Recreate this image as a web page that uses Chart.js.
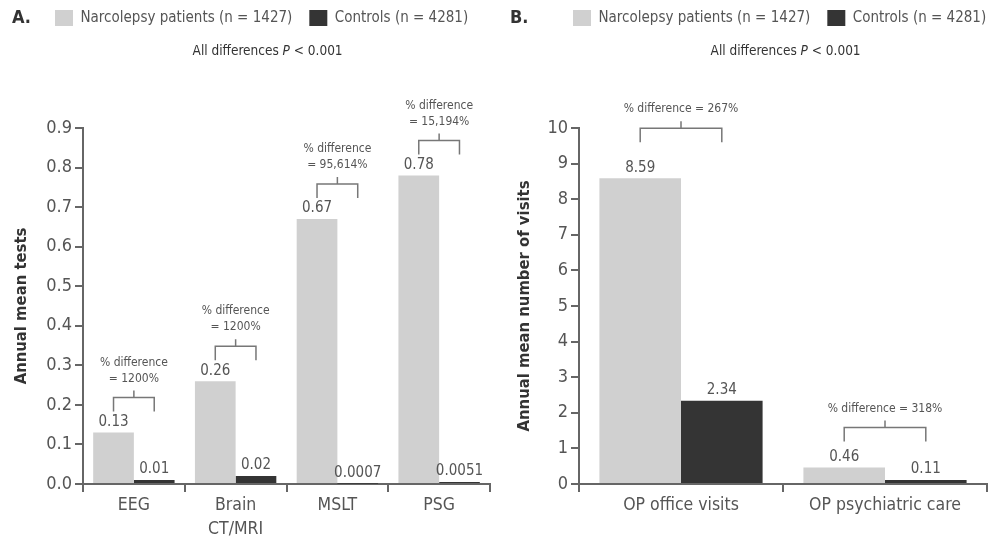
<!DOCTYPE html>
<html>
<head>
<meta charset="utf-8">
<script src="https://cdn.jsdelivr.net/npm/chart.js@4.4.1/dist/chart.umd.min.js"></script>
<style>
  html, body { margin: 0; padding: 0; background: #fff; width: 996px; height: 536px; overflow: hidden; }
  #testsChart { position: absolute; left: 0; top: 0; }
  #visitsChart { position: absolute; left: 500px; top: 0; }
</style>
</head>
<body>
<canvas id="testsChart" width="498" height="536"></canvas>
<canvas id="visitsChart" width="540" height="536"></canvas>
<script>
// data
const seriesNames = ['Narcolepsy patients (n = 1427)', 'Controls (n = 4281)']
const subtitleParts = ['All differences ', 'P', ' < 0.001']

const testCategories = ['EEG', ['Brain', 'CT/MRI'], 'MSLT', 'PSG']
const testNarcolepsy = [0.13, 0.26, 0.67, 0.78]
const testControls = [0.01, 0.02, 0.0007, 0.0051]
const testDiff = ['1200%', '1200%', '95,614%', '15,194%']
const testAxis = { min: 0, max: 0.9, step: 0.1, decimals: 1 }

const visitCategories = ['OP office visits', 'OP psychiatric care']
const visitNarcolepsy = [8.59, 0.46]
const visitControls = [2.34, 0.11]
const visitDiff = ['267%', '318%']
const visitAxis = { min: 0, max: 10, step: 1, decimals: 0 }

const FONT = "'Liberation Sans Narrow', 'DejaVu Sans Condensed', Arial, sans-serif"
Chart.defaults.font.family = FONT
const LIGHT = '#d0d0d0'
const DARK = '#343434'
const AXIS = '#666'
const TEXT = '#555'

// extra box under the legend: panel letter + "All differences P < 0.001"
const headerBox = {
  id: 'headerBox',
  beforeInit(chart) {
    const box = {
      position: 'top', weight: 500, fullSize: true, options: {},
      left: 0, top: 0, right: 0, bottom: 0, width: 0, height: 0,
      isHorizontal() { return true },
      update(maxWidth) {
        this.width = maxWidth
        this.height = chart.options.plugins.headerBox.height
      },
      draw() {
        const o = chart.options.plugins.headerBox
        const ctx = chart.ctx
        ctx.save()
        ctx.textBaseline = 'middle'
        ctx.fillStyle = '#333'
        ctx.font = 'bold 18px ' + FONT
        ctx.textAlign = 'left'
        ctx.fillText(o.panel, o.panelX, o.panelY)

        const hb = chart.legend.legendHitBoxes
        const last = hb[hb.length - 1]
        const cx = (hb[0].left + last.left + last.width) / 2 + o.subShift
        const fonts = ['13.5px ' + FONT, 'italic 13.5px ' + FONT, '13.5px ' + FONT]
        let total = 0
        subtitleParts.forEach((p, i) => { ctx.font = fonts[i]; total += ctx.measureText(p).width })
        let x = cx - total / 2
        const y = this.top + o.subY
        subtitleParts.forEach((p, i) => {
          ctx.font = fonts[i]
          ctx.fillText(p, x, y)
          x += ctx.measureText(p).width
        })
        ctx.restore()
      }
    }
    Chart.layouts.addBox(chart, box)
  },
  // slide the legend row right, past the panel letter
  afterLayout(chart, args, opts) {
    const lg = chart.legend
    lg.left += opts.legendShift
    lg.right += opts.legendShift
    lg.legendHitBoxes.forEach(h => { h.left += opts.legendShift })
  }
}

// value labels above bars and "% difference" brackets
const barNotes = {
  id: 'barNotes',
  afterDatasetsDraw(chart, args, opts) {
    const ctx = chart.ctx
    const m0 = chart.getDatasetMeta(0)
    const m1 = chart.getDatasetMeta(1)
    ctx.save()
    ctx.fillStyle = TEXT
    ctx.textAlign = 'center'
    ctx.textBaseline = 'bottom'
    ctx.font = '15px ' + FONT
    chart.data.datasets.forEach((ds, d) => {
      chart.getDatasetMeta(d).data.forEach((bar, i) => {
        ctx.fillText(String(ds.data[i]), bar.x, bar.y - 3)
      })
    })

    ctx.strokeStyle = '#777'
    ctx.lineWidth = 1.5
    ctx.font = '12px ' + FONT
    ctx.textBaseline = 'middle'
    opts.texts.forEach((t, i) => {
      const b0 = m0.data[i]
      const b1 = m1.data[i]
      const legBottom = Math.min(b0.y, b1.y) - opts.gaps[i]
      const top = legBottom - 14
      const mid = (b0.x + b1.x) / 2
      ctx.beginPath()
      ctx.moveTo(b0.x, legBottom)
      ctx.lineTo(b0.x, top)
      ctx.lineTo(b1.x, top)
      ctx.lineTo(b1.x, legBottom)
      ctx.moveTo(mid, top)
      ctx.lineTo(mid, top - 7)
      ctx.stroke()
      if (opts.twoLine) {
        ctx.fillText('% difference', mid, top - 35)
        ctx.fillText('= ' + t, mid, top - 19)
      } else {
        ctx.fillText('% difference = ' + t, mid, top - 19)
      }
    })
    ctx.restore()
  }
}

function makeChart(id, categories, narc, ctrl, diffs, axis, yTitle, look) {
  return new Chart(document.getElementById(id), {
    type: 'bar',
    data: {
      labels: categories,
      datasets: [
        { label: seriesNames[0], data: narc, backgroundColor: LIGHT, borderWidth: 0, yAxisID: 'y',
          categoryPercentage: 0.8, barPercentage: 1.0 },
        { label: seriesNames[1], data: ctrl, backgroundColor: DARK, borderWidth: 0, yAxisID: 'y',
          categoryPercentage: 0.8, barPercentage: 1.0 }
      ]
    },
    options: {
      responsive: false,
      animation: false,
      devicePixelRatio: 1,
      layout: { padding: { left: 0, top: -7, right: 0, bottom: 0 } },
      scales: {
        x: {
          grid: { offset: true, drawOnChartArea: false, tickLength: 8, color: AXIS, lineWidth: 2 },
          border: { color: AXIS, width: 2 },
          ticks: { color: TEXT, font: { size: 17.5, lineHeight: 1.35 }, padding: 2, maxRotation: 0, autoSkip: false },
          afterFit: s => { s.height = 52 }
        },
        y: {
          min: axis.min, max: axis.max,
          grid: { drawOnChartArea: false, tickLength: 8, color: AXIS, lineWidth: 2 },
          border: { color: AXIS, width: 2 },
          ticks: { stepSize: axis.step, color: TEXT, font: { size: 18 }, padding: 3,
            callback: v => Number(v).toFixed(axis.decimals) },
          title: { display: true, text: yTitle, color: '#333', font: { size: 16.5, weight: 'bold' },
            padding: { top: look.titlePad, bottom: 0 } },
          afterFit: s => { s.width = look.yWidth }
        },
        yR: {
          position: 'right', display: true,
          grid: { display: false }, border: { display: false }, ticks: { display: false },
          afterFit: s => { s.width = look.rightWidth }
        }
      },
      plugins: {
        legend: {
          align: 'start',
          labels: { boxWidth: 18, boxHeight: 16, padding: 17, color: TEXT, font: { size: 15 } }
        },
        tooltip: { enabled: false },
        headerBox: { height: 92, panel: look.panel, panelX: look.panelX, panelY: 18, subY: 15,
          subShift: 6, legendShift: look.legendShift },
        barNotes: { texts: diffs, gaps: look.gaps, twoLine: look.twoLine }
      }
    },
    plugins: [headerBox, barNotes]
  })
}

makeChart('testsChart', testCategories, testNarcolepsy, testControls, testDiff, testAxis,
  'Annual mean tests',
  { yWidth: 83, rightWidth: 8, titlePad: 12, legendShift: 38, panel: 'A.', panelX: 12,
    gaps: [21, 21, 21, 21], twoLine: true })

makeChart('visitsChart', visitCategories, visitNarcolepsy, visitControls, visitDiff, visitAxis,
  'Annual mean number of visits',
  { yWidth: 79, rightWidth: 53, titlePad: 15, legendShift: 56, panel: 'B.', panelX: 10,
    gaps: [36, 26], twoLine: false })
</script>
</body>
</html>
